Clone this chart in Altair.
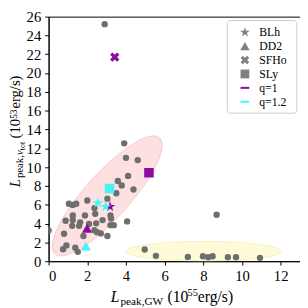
import altair as alt
import numpy as np
import pandas as pd

# ---------------- data ----------------
grey_x = [2.9, 3.91, 4.0, 4.61, 4.11, 3.58, 3.78, 4.39, 3.50, 3.04, 2.0, 1.05, 1.25, 1.43,
          2.37, 2.41, 3.2, 3.23, 2.79, 1.88, 2.46, 3.2, 3.37, 1.25, 1.25, 0.88, 1.63, 1.22,
          1.58, 2.09, 2.37, 2.51, 2.70, 1.80, 0.80, 3.04, 4.06, 0.0, 0.92, 0.75, 1.38, 1.51,
          4.97, 5.55, 8.69, 7.2, 7.98, 8.25, 8.48, 9.27, 9.69, 10.93]
grey_y = [25.2, 12.53, 10.99, 10.75, 9.07, 8.53, 8.06, 7.62, 7.22, 6.65, 6.45, 6.11, 5.98, 6.11,
          5.65, 5.04, 4.87, 4.53, 4.37, 4.87, 4.03, 3.83, 3.83, 4.87, 4.37, 4.3, 4.13, 3.76,
          3.76, 3.96, 3.29, 3.09, 2.95, 2.68, 2.92, 2.68, 4.23, 3.26, 1.68, 1.27, 1.44, 1.0,
          1.24, 0.57, 4.94, 0.46, 0.53, 0.43, 0.53, 0.43, 0.43, 0.36]

eos_names = ["BLh", "DD2", "SFHo", "SLy"]
sim_eos = ["BLh", "BLh", "BLh", "DD2", "DD2", "SFHo", "SLy", "SLy"]
sim_q = ["1", "1.2", "1.2", "1", "1.2", "1", "1", "1.2"]
sim_x = [3.18, 2.54, 2.95, 1.99, 1.93, 3.42, 5.19, 3.15]
sim_y = [5.8, 6.2, 5.8, 3.5, 1.6, 21.7, 9.4, 7.72]
q_names = ["1", "1.2"]

pink_center = [3.03, 6.94]
pink_major = [2.70, 6.18]
pink_minor = [0.87, -1.57]
yellow_center = [8.0, 1.05]
yellow_major = [4.0, 0.0]
yellow_minor = [0.0, 1.05]

x_ticks = [0, 2, 4, 6, 8, 10, 12]
y_ticks = list(range(0, 27, 2))
legend_labels = ["BLh", "DD2", "SFHo", "SLy", "q=1", "q=1.2"]

# ---------------- style ----------------
PURPLE = "#8c0a9f"
CYAN = "#45f5f5"
GREY = "#6e6e6e"
FONT = "Liberation Serif"
LEFT = 49.5          # page x of the plot's left edge
W, H = 257, 250
PT = 5.5             # top padding


def star_path(inner=0.382):
    pts = []
    for k in range(10):
        r = 1.0 if k % 2 == 0 else inner
        a = -np.pi / 2 + k * np.pi / 5
        pts.append(f"{r*np.cos(a):.3f},{r*np.sin(a):.3f}")
    return "M" + "L".join(pts) + "Z"


X_PATH = "M-0.5,-1L0,-0.5L0.5,-1L1,-0.5L0.5,0L1,0.5L0.5,1L0,0.5L-0.5,1L-1,0.5L-0.5,0L-1,-0.5Z"
shape_range = [star_path(), "triangle-up", X_PATH, "square"]
shape_sizes = [130, 110, 90, 95]


def ellipse_band(center, a, b, n=300):
    M = np.array([[a[0], b[0]], [a[1], b[1]]])
    N = np.linalg.inv(M)
    n1, n2 = N[:, 0], N[:, 1]
    half = np.sqrt(a[0] ** 2 + b[0] ** 2)
    dx = np.linspace(-half, half, n)
    A = n2 @ n2
    B = 2 * dx * (n1 @ n2)
    C = dx ** 2 * (n1 @ n1) - 1
    disc = np.clip(B ** 2 - 4 * A * C, 0, None)
    lo = (-B - np.sqrt(disc)) / (2 * A)
    hi = (-B + np.sqrt(disc)) / (2 * A)
    return pd.DataFrame({"x": center[0] + dx, "y": center[1] + lo, "y2": center[1] + hi})


xs = alt.Scale(domain=[0, 13], nice=False, zero=False)
ys = alt.Scale(domain=[0, 26], nice=False, zero=False)
xaxis = alt.Axis(values=x_ticks, title=None, labelPadding=4, format="d")
yaxis = alt.Axis(values=y_ticks, title=None, labelPadding=4, format="d")


def X(f):
    return alt.X(f, scale=xs, axis=xaxis)


def Y(f):
    return alt.Y(f, scale=ys, axis=yaxis)


pink = alt.Chart(ellipse_band(pink_center, pink_major, pink_minor)).mark_area(
    fill="#fde1e1", stroke="#f8c2c2", strokeWidth=1, clip=True
).encode(x=X("x:Q"), y=Y("y:Q"), y2="y2:Q")

yellow = alt.Chart(ellipse_band(yellow_center, yellow_major, yellow_minor)).mark_area(
    fill="#fefcd8", stroke="#f6efb4", strokeWidth=1, clip=True
).encode(x=X("x:Q"), y=Y("y:Q"), y2="y2:Q")

grey = alt.Chart(pd.DataFrame({"x": grey_x, "y": grey_y})).mark_circle(
    color=GREY, size=42, opacity=1, clip=True
).encode(x=X("x:Q"), y=Y("y:Q"))

sim_layers = []
for i, e in enumerate(eos_names):
    for q, col in zip(q_names, [PURPLE, CYAN]):
        idx = [k for k in range(len(sim_eos)) if sim_eos[k] == e and sim_q[k] == q]
        if not idx:
            continue
        df = pd.DataFrame({"x": [sim_x[k] for k in idx], "y": [sim_y[k] for k in idx]})
        sim_layers.append(
            alt.Chart(df).mark_point(
                shape=shape_range[i], filled=True, color=col, opacity=1,
                size=shape_sizes[i], strokeWidth=0, clip=True
            ).encode(x=X("x:Q"), y=Y("y:Q"))
        )


def txt(s, x, y, size, angle=0, italic=False, baseline="alphabetic", align="left", color="black"):
    kw = dict(font=FONT, fontSize=size, align=align, baseline=baseline, color=color)
    if angle:
        kw["angle"] = angle
    if italic:
        kw["fontStyle"] = "italic"
    return alt.Chart(pd.DataFrame({"t": [s]})).mark_text(**kw).encode(
        x=alt.value(x), y=alt.value(y), text="t:N"
    )


# page -> plot coords
def px(p):
    return p - LEFT


def py(p):
    return p - (8 + PT)


titles = [
    # x title
    txt("L", px(113), py(305), 16, italic=True),
    txt("peak,GW", px(123), py(308), 11.5),
    txt("(10", px(171), py(305), 16),
    txt("55", px(191.5), py(299), 10.5),
    txt("erg/s)", px(202), py(305), 16),
    # y title (rotated, reads upward)
    txt("L", px(20.5), py(188), 15, angle=270, italic=True),
    txt("peak,", px(23.5), py(178.5), 11, angle=270),
    txt("ν", px(23.5), py(155), 11, angle=270, italic=True),
    txt("tot", px(25.5), py(150), 8, angle=270),
    txt("(10", px(20.5), py(138), 15, angle=270),
    txt("53", px(17.5), py(118), 9.5, angle=270),
    txt("erg/s)", px(20.5), py(107.5), 15, angle=270),
]

# legend
box_l, box_r = W - 74.3, W - 3.3
box_t, box_b = 4, 98.7
row0, row_dy = 16, 14.2
mk_x, tx_x = W - 56.3, W - 41.7
legend = [
    alt.Chart(pd.DataFrame({"a": [0]})).mark_rect(
        fill="white", fillOpacity=0.8, stroke="#cccccc", strokeWidth=1, cornerRadius=3
    ).encode(x=alt.value(box_l), x2=alt.value(box_r), y=alt.value(box_t), y2=alt.value(box_b))
]
for i, lab in enumerate(legend_labels):
    ry = row0 + i * row_dy
    if i < 4:
        legend.append(
            alt.Chart(pd.DataFrame({"a": [0]})).mark_point(
                shape=shape_range[i], filled=True, color="#808080", opacity=1,
                size=shape_sizes[i] * 0.85, strokeWidth=0
            ).encode(x=alt.value(mk_x), y=alt.value(ry))
        )
    else:
        legend.append(
            alt.Chart(pd.DataFrame({"a": [0]})).mark_rule(
                color=[PURPLE, CYAN][i - 4], strokeWidth=2
            ).encode(x=alt.value(mk_x - 4.5), x2=alt.value(mk_x + 4.5), y=alt.value(ry))
        )
    legend.append(txt(lab, tx_x, ry, 12, baseline="middle"))

chart = alt.layer(pink, yellow, grey, *sim_layers, *titles, *legend).properties(
    width=W, height=H,
    padding={"left": LEFT - 8, "top": PT, "right": 0, "bottom": 300 - PT - H},
    autosize=alt.AutoSizeParams(type="none"),
    background="white",
).configure_view(stroke="black", strokeWidth=1).configure_axis(
    domainColor="black", tickColor="black", labelColor="black", grid=False,
    labelFont=FONT, labelFontSize=15, tickSize=4, domainWidth=1, tickWidth=1
)

chart.save("out.html", embed_options={"renderer": "svg", "actions": False})
